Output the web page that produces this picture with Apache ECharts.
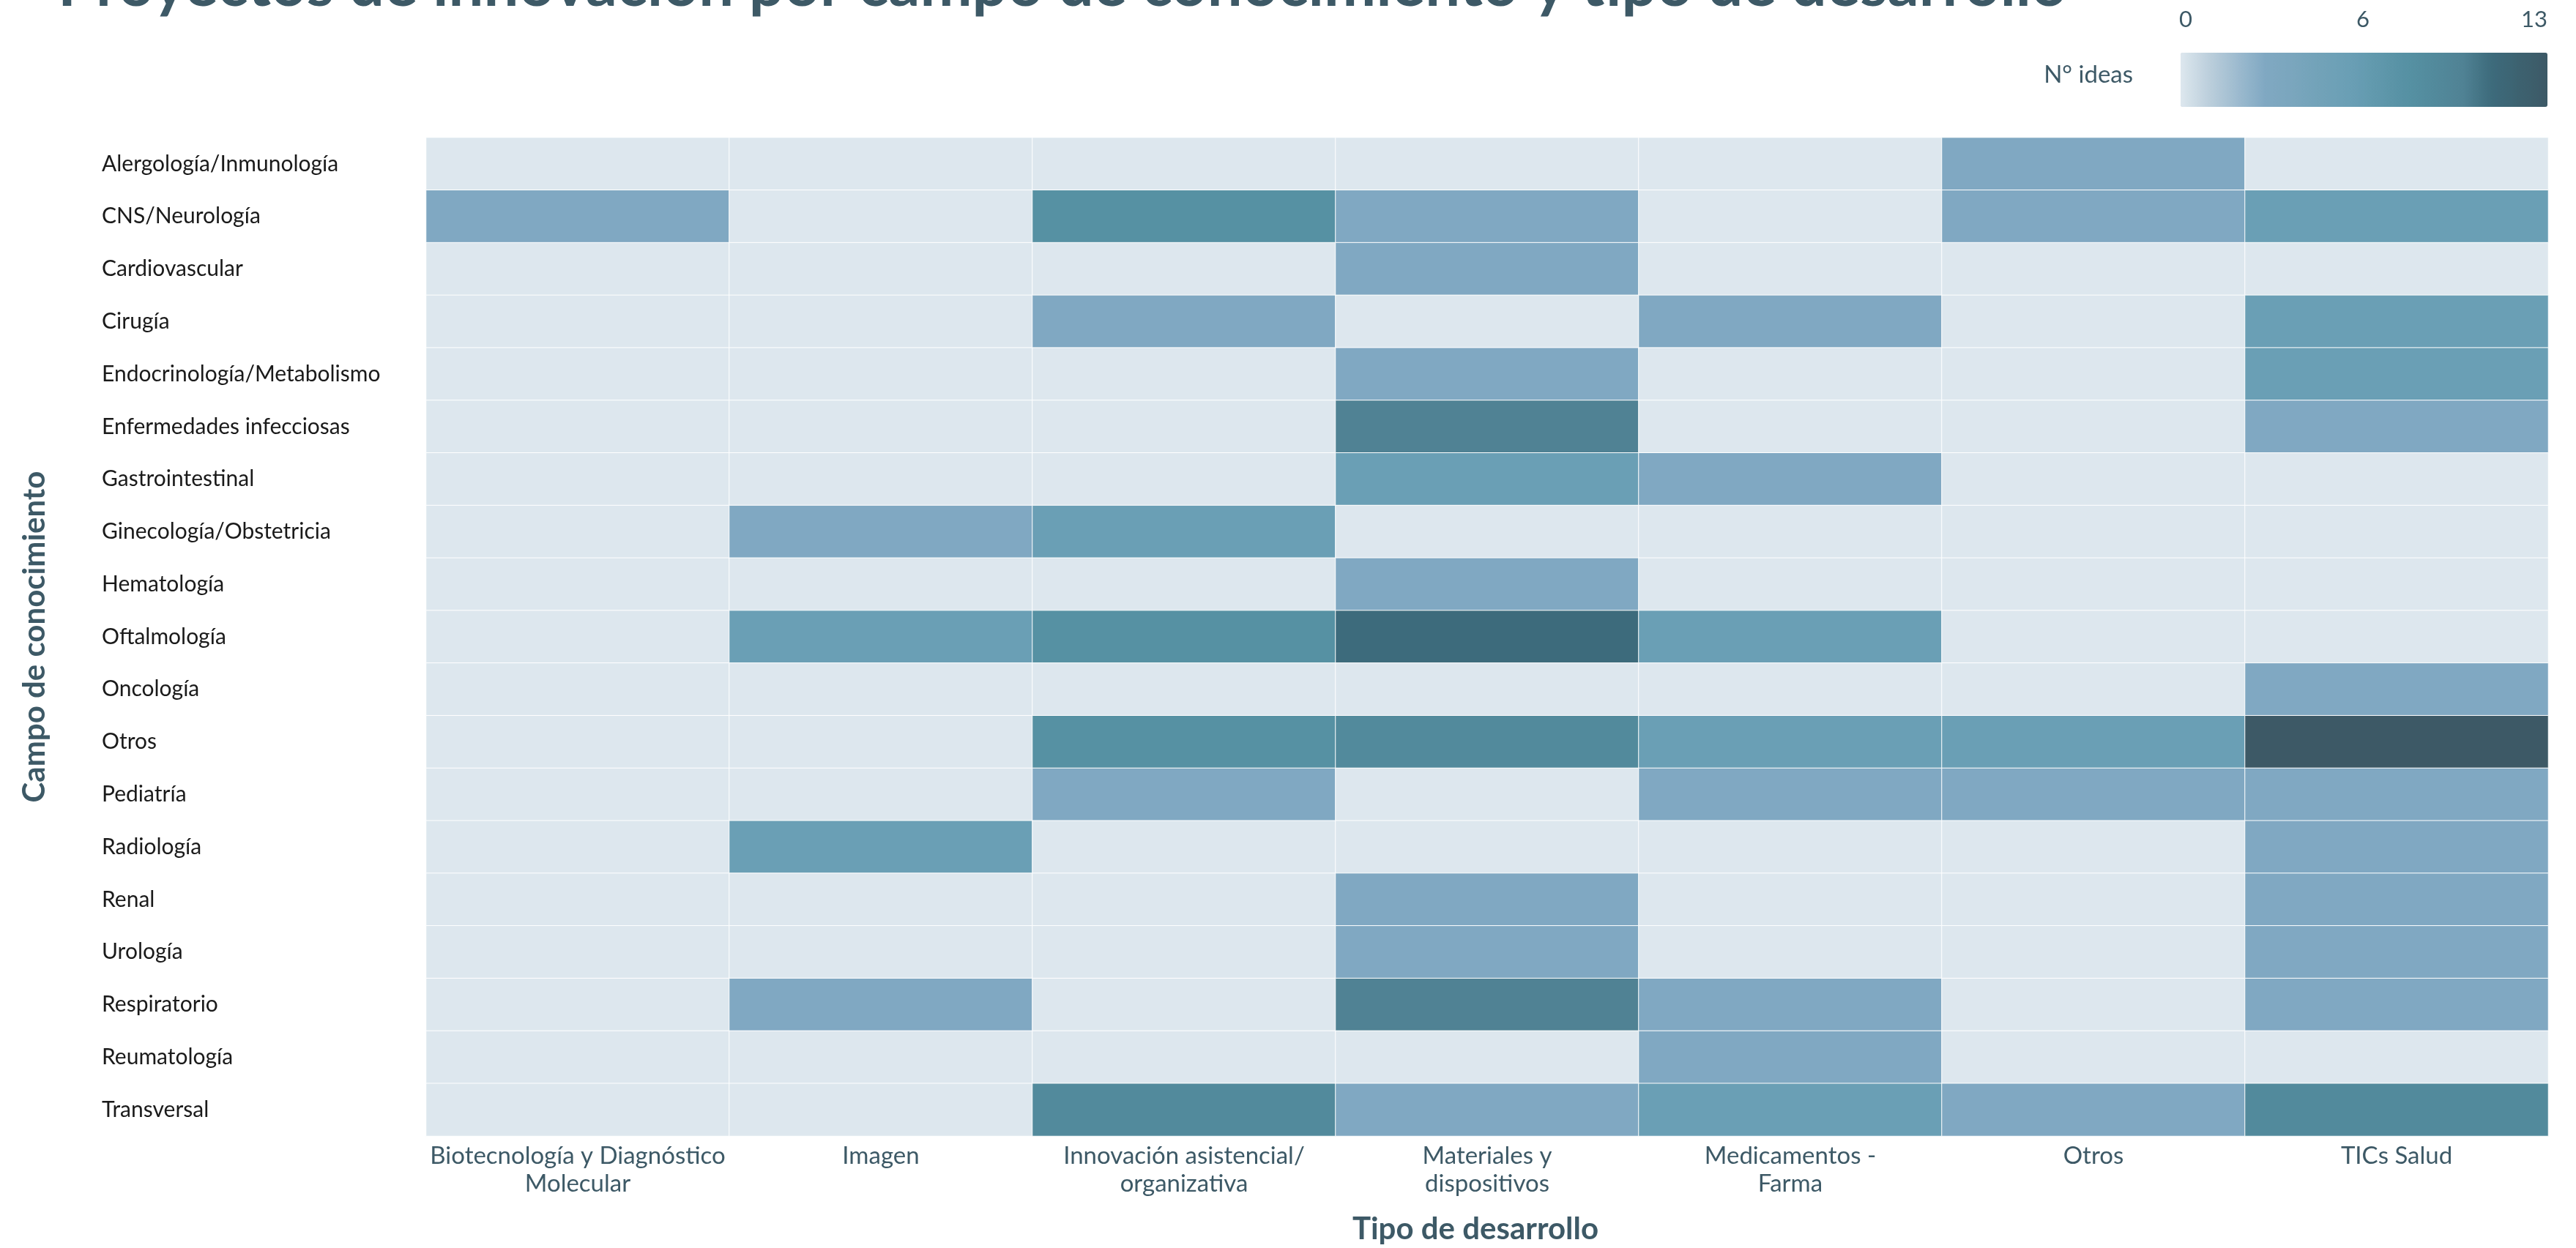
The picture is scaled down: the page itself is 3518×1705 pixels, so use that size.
<!DOCTYPE html>
<html>
<head>
<meta charset="utf-8">
<script src="https://cdn.jsdelivr.net/npm/echarts@6/dist/echarts.min.js"></script>
<style>
html,body{margin:0;padding:0;background:#ffffff;}
#chart{width:3518px;height:1705px;}
</style>
</head>
<body>
<div id="chart"></div>
<script>
const titleText = 'Proyectos de innovación por campo de conocimiento y tipo de desarrollo';
const xAxisName = 'Tipo de desarrollo';
const yAxisName = 'Campo de conocimiento';
const legendName = 'N° ideas';

const tiposDesarrollo = [
  'Biotecnología y Diagnóstico\nMolecular',
  'Imagen',
  'Innovación asistencial/\norganizativa',
  'Materiales y\ndispositivos',
  'Medicamentos -\nFarma',
  'Otros',
  'TICs Salud'
];

const campos = [
  'Alergología/Inmunología',
  'CNS/Neurología',
  'Cardiovascular',
  'Cirugía',
  'Endocrinología/Metabolismo',
  'Enfermedades infecciosas',
  'Gastrointestinal',
  'Ginecología/Obstetricia',
  'Hematología',
  'Oftalmología',
  'Oncología',
  'Otros',
  'Pediatría',
  'Radiología',
  'Renal',
  'Urología',
  'Respiratorio',
  'Reumatología',
  'Transversal'
];

// values per tipo de desarrollo (column), in the order of campos
const biotecnologia = [0,3,0,0,0,0,0,0,0,0,0,0,0,0,0,0,0,0,0];
const imagen        = [0,0,0,0,0,0,0,3,0,6,0,0,0,6,0,0,3,0,0];
const innovacion    = [0,8,0,3,0,0,0,6,0,8,0,8,3,0,0,0,0,0,9];
const materiales    = [0,3,3,0,3,10,6,0,3,11,0,9,0,0,3,3,10,0,3];
const medicamentos  = [0,0,0,3,0,0,3,0,0,6,0,6,3,0,0,0,3,3,6];
const otros         = [3,3,0,0,0,0,0,0,0,0,0,6,3,0,0,0,0,0,3];
const tics          = [0,6,0,6,6,3,0,0,0,0,3,13,3,3,3,3,3,0,9];

const legendTicks = ['0', '6', '13'];
const scaleMin = 0;
const scaleMax = 13;
const scaleColors = ['#dde7ee','#bccfdc','#9dbbcf','#80a8c2','#7aa6bd','#71a2b8','#6a9fb5',
                     '#6098ac','#5691a3','#528a9c','#508294','#3d6b7c','#3d6270','#3d5966'];

const columns = [biotecnologia, imagen, innovacion, materiales, medicamentos, otros, tics];
const data = [];
columns.forEach((col, xi) => col.forEach((v, yi) => data.push([xi, yi, v])));

const slate = '#3d5966';
const fontFam = 'Lato, "Open Sans", sans-serif';

const chart = echarts.init(document.getElementById('chart'), null, {renderer: 'canvas'});
chart.setOption({
  backgroundColor: '#ffffff',
  animation: false,
  textStyle: {fontFamily: fontFam},
  grid: {left: 582, right: 38, top: 188, bottom: 152, containLabel: false},
  xAxis: {
    type: 'category',
    data: tiposDesarrollo,
    position: 'bottom',
    axisLine: {show: false},
    axisTick: {show: false},
    splitLine: {show: false},
    axisLabel: {
      color: slate, fontSize: 33, lineHeight: 38, margin: 8,
      fontFamily: fontFam, interval: 0
    },
    name: xAxisName,
    nameLocation: 'middle',
    nameGap: 106,
    nameTextStyle: {color: slate, fontSize: 42, fontWeight: 'bold', fontFamily: fontFam, padding: [0, 32, 0, 0]},
  },
  yAxis: {
    type: 'category',
    data: campos,
    inverse: true,
    axisLine: {show: false},
    axisTick: {show: false},
    splitLine: {show: false},
    axisLabel: {
      color: '#1a1a1a', fontSize: 30, align: 'left', margin: 443,
      fontFamily: fontFam, interval: 0
    },
    name: yAxisName,
    nameLocation: 'middle',
    nameGap: 514,
    nameRotate: 90,
    nameTextStyle: {color: slate, fontSize: 42, fontWeight: 'bold', fontFamily: fontFam}
  },
  visualMap: {
    type: 'continuous',
    min: scaleMin,
    max: scaleMax,
    orient: 'horizontal',
    left: 2978,
    top: 72,
    padding: 0,
    itemWidth: 74,
    itemHeight: 501,
    calculable: false,
    showLabel: false,
    text: null,
    hoverLink: false,
    inRange: {color: scaleColors}
  },
  graphic: [
    {type: 'text', left: 79, top: -62, style: {text: titleText, fill: slate, fontSize: 85, fontWeight: 'bold', fontFamily: fontFam}},
    {type: 'text', right: 3518 - 2913, top: 86, style: {text: legendName, fill: slate, fontSize: 33, fontFamily: fontFam}},
    {type: 'text', x: 2985, y: 27, style: {text: legendTicks[0], fill: slate, fontSize: 31, fontFamily: fontFam, align: 'center', verticalAlign: 'middle'}},
    {type: 'text', x: 3227, y: 27, style: {text: legendTicks[1], fill: slate, fontSize: 31, fontFamily: fontFam, align: 'center', verticalAlign: 'middle'}},
    {type: 'text', x: 3479, y: 27, style: {text: legendTicks[2], fill: slate, fontSize: 31, fontFamily: fontFam, align: 'right', verticalAlign: 'middle'}}
  ],
  series: [{
    type: 'heatmap',
    data: data,
    itemStyle: {borderColor: '#ffffff', borderWidth: 1},
    emphasis: {disabled: true},
    label: {show: false}
  }]
});
</script>
</body>
</html>
